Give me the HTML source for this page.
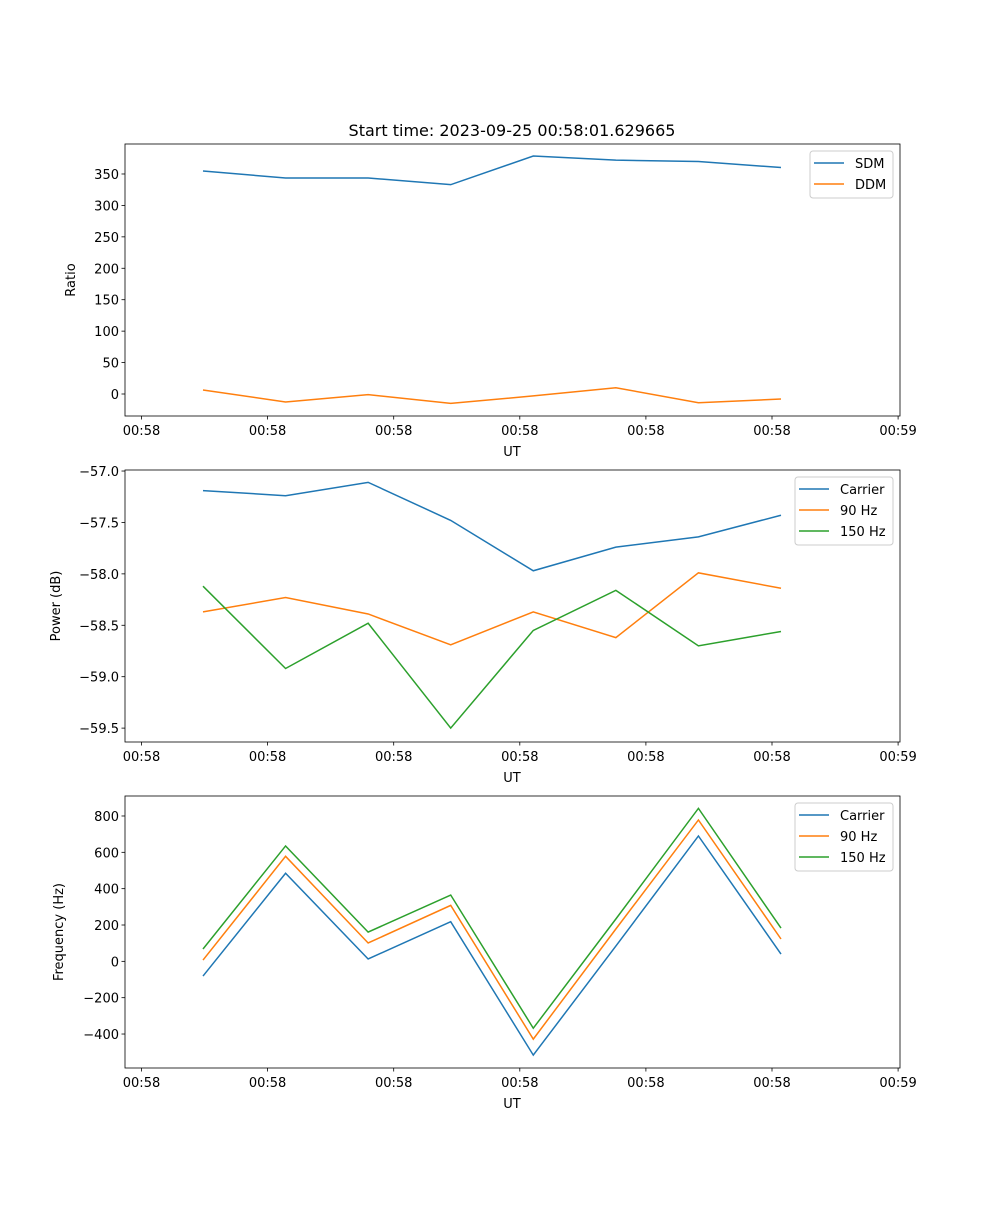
<!DOCTYPE html>
<html><head><meta charset="utf-8"><style>
body{margin:0;background:#fff}
svg text{font-family:"DejaVu Sans","Liberation Sans",sans-serif;font-size:13px;fill:#000}
</style></head><body>
<svg id="fig" width="1000" height="1200" xmlns="http://www.w3.org/2000/svg">
<rect width="1000" height="1200" fill="#fff"/>
<text x="512" y="136" text-anchor="middle" style="font-size:16px">Start time: 2023-09-25 00:58:01.629665</text>
</svg>
<script>
const xTickLabels=["00:58","00:58","00:58","00:58","00:58","00:58","00:59"];
const sdm=[354.8,343.6,343.6,333,378.6,372,369.9,360.3];
const ddm=[6.4,-12.7,-1,-15,-3,10,-14,-8];
const pCarrier=[-57.19,-57.24,-57.11,-57.48,-57.97,-57.74,-57.64,-57.43];
const p90=[-58.37,-58.23,-58.39,-58.69,-58.37,-58.62,-57.99,-58.14];
const p150=[-58.12,-58.92,-58.48,-59.5,-58.55,-58.16,-58.70,-58.56];
const fCarrier=[-81,485,13,218,-516,84,690,40];
const f90=[7,578,101,308,-428,178,778,123];
const f150=[68,635,161,365,-368,233,842,183];
const ratioTicks=[0,50,100,150,200,250,300,350];
const powerTicks=[-59.5,-59.0,-58.5,-58.0,-57.5,-57.0];
const freqTicks=[-400,-200,0,200,400,600,800];
const C=["#1f77b4","#ff7f0e","#2ca02c"];
const svg=document.getElementById('fig');
const NS="http://www.w3.org/2000/svg";
function mk(t,a,p){const e=document.createElementNS(NS,t);for(const k in a)e.setAttribute(k,a[k]);(p||svg).appendChild(e);return e;}
const L=125,R=900;
function xPt(i){return 203+i*82.57;}
function xTick(j){return 141.5+j*126.1;}
function panel(name,top,bot,ymin,ymax,ticks,fmt,series,labels,ylabel,ylabX,leg){
  const g=mk('g',{});
  
  
  const y=v=>bot-(v-ymin)/(ymax-ymin)*(bot-top);
  series.forEach((s,k)=>{
    const pl=mk('polyline',{points:s.map((v,i)=>xPt(i)+','+y(v)).join(' '),fill:'none',stroke:C[k],'stroke-width':1.5},g);
    
    
  });
  mk('rect',{x:L,y:top,width:R-L,height:bot-top,fill:'none',stroke:'#000','stroke-width':0.8},g);
  ticks.forEach(t=>{
    const yy=y(t);
    mk('line',{x1:L-3.5,x2:L,y1:yy,y2:yy,stroke:'#000','stroke-width':0.8},g);
    const tx=mk('text',{x:L-6,y:yy+5,'text-anchor':'end'},g);tx.textContent=fmt(t);
    
    
  });
  xTickLabels.forEach((lb,j)=>{
    const xx=xTick(j);
    mk('line',{x1:xx,x2:xx,y1:bot,y2:bot+3.5,stroke:'#000','stroke-width':0.8},g);
    const tx=mk('text',{x:xx,y:bot+19,'text-anchor':'middle'},g);tx.textContent=lb;
    
    
  });
  const xl=mk('text',{x:512,y:bot+40,'text-anchor':'middle'},g);xl.textContent='UT';
  
  
  const yl=mk('text',{x:ylabX,y:(top+bot)/2,'text-anchor':'middle',transform:`rotate(-90 ${ylabX} ${(top+bot)/2})`},g);yl.textContent=ylabel;
  
  
  const lg=mk('g',{},g);
  
  
  mk('rect',{x:leg.x,y:top+7,width:893-leg.x,height:labels.length*21+5,rx:3,fill:'#fff',stroke:'#ccc','stroke-width':1},lg);
  labels.forEach((lb,k)=>{
    const yy=top+19+k*21;
    mk('line',{x1:leg.x+4,x2:leg.x+34,y1:yy,y2:yy,stroke:C[k],'stroke-width':1.5},lg);
    const t=mk('text',{x:leg.x+45,y:yy+5},lg);t.textContent=lb;
    
    
  });
}
panel('ratio',144,416,-35,397.7,ratioTicks,t=>String(t),[sdm,ddm],['SDM','DDM'],'Ratio',75,{x:810});
panel('power',470,742,-59.635,-56.99,powerTicks,t=>t.toFixed(1).replace('-','\u2212'),[pCarrier,p90,p150],['Carrier','90 Hz','150 Hz'],'Power (dB)',60,{x:795});
panel('frequency',796,1068,-587,910,freqTicks,t=>String(t).replace('-','\u2212'),[fCarrier,f90,f150],['Carrier','90 Hz','150 Hz'],'Frequency (Hz)',63,{x:795});
</script>
</body></html>
